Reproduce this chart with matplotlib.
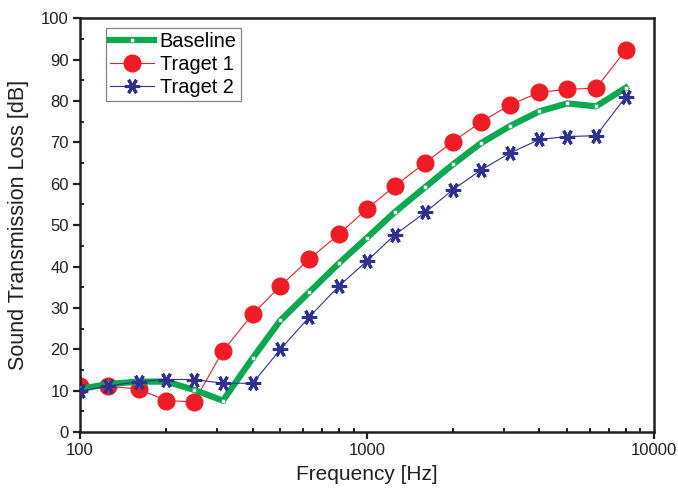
import matplotlib
matplotlib.use("Agg")
import matplotlib.pyplot as plt
from matplotlib.ticker import FixedLocator, NullFormatter, MultipleLocator

plt.rcParams['font.family'] = ['Liberation Sans', 'DejaVu Sans']

freq = [100, 125, 160, 200, 250, 315, 400, 500, 630, 800, 1000, 1250, 1600,
        2000, 2500, 3150, 4000, 5000, 6300, 8000]
baseline = [10.4, 11.6, 12.2, 12.2, 10.2, 7.6, 17.9, 27.0, 33.8, 40.8, 46.9,
            53.1, 59.2, 64.7, 69.8, 73.9, 77.5, 79.4, 78.7, 83.2]
target1 = [11.1, 11.1, 10.4, 7.6, 7.3, 19.6, 28.5, 35.3, 41.8, 47.8, 53.9,
           59.4, 65.1, 70.2, 74.9, 79.0, 82.1, 82.8, 83.1, 92.3]
target2 = [9.9, 11.1, 12.2, 12.7, 12.7, 11.8, 11.8, 20.0, 27.8, 35.3, 41.3,
           47.6, 53.1, 58.6, 63.3, 67.4, 70.7, 71.4, 71.6, 81.0]

fig = plt.figure(figsize=(6.78, 4.91), dpi=100)
ax = fig.add_axes([0.118, 0.120, 0.846, 0.843])

green = '#0aa84f'
red = '#ee1c25'
blue = '#2e3192'

ax.plot(freq, baseline, color=green, lw=4.5, marker='s', ms=2.2,
        mfc='white', mec=green, mew=0.4, label='Baseline', zorder=3)
ax.plot(freq, target1, color=red, lw=0.8, marker='o', ms=12,
        mfc=red, mec=red, label='Traget 1', zorder=2)
ax.plot(freq, target2, color=blue, lw=0.8, marker=(6, 2, 90), ms=11,
        mec=blue, mew=2.2, label='Traget 2', zorder=4)

ax.set_xscale('log')
ax.set_xlim(100, 10000)
ax.set_ylim(0, 100)
ax.yaxis.set_major_locator(MultipleLocator(10))
ax.yaxis.set_minor_locator(MultipleLocator(5))
ax.xaxis.set_major_locator(FixedLocator([100, 1000, 10000]))
ax.set_xticklabels(['100', '1000', '10000'])
minors = [m * d for d in (100, 1000) for m in range(2, 10)]
ax.xaxis.set_minor_locator(FixedLocator(minors))
ax.xaxis.set_minor_formatter(NullFormatter())

ax.tick_params(which='major', direction='out', length=5, width=1.6,
               labelsize=12, colors='#231f20', pad=3)
ax.tick_params(which='minor', direction='in', length=3, width=1.4,
               colors='#231f20')
for s in ax.spines.values():
    s.set_linewidth(1.8)
    s.set_color('#231f20')

ax.set_xlabel('Frequency [Hz]', fontsize=15, color='#231f20', labelpad=5)
ax.set_ylabel('Sound Transmission Loss [dB]', fontsize=15.5, color='#231f20',
              labelpad=9)

leg = ax.legend(loc='upper left', bbox_to_anchor=(0.038, 0.985), fontsize=14.4,
                frameon=True, fancybox=False, edgecolor='#666666',
                handlelength=2.2, borderpad=0.2, labelspacing=0.2,
                handletextpad=0.3, borderaxespad=0.2)
leg.get_frame().set_linewidth(0.9)

fig.savefig('out.png', dpi=100)
